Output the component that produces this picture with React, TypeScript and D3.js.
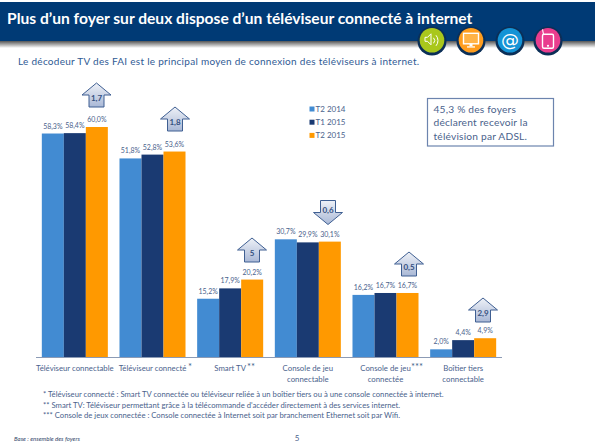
import React from "react";
import * as d3 from "d3";

const categories = ["c1", "c2", "c3", "c4", "c5", "c6"];
const categoryLines = [
  ["Téléviseur connectable"],
  ["Téléviseur connecté"],
  ["Smart TV"],
  ["Console de jeu", "connectable"],
  ["Console de jeu", "connectée"],
  ["Boîtier tiers", "connectable"],
];
const categoryStars = ["", "*", "**", "", "***", ""];
const seriesNames = ["T2 2014", "T1 2015", "T2 2015"];
const seriesColors = ["#428BD2", "#1A3A72", "#FF9900"];
const t22014 = [58.3, 51.8, 15.2, 30.7, 16.2, 2.0];
const t12015 = [58.4, 52.8, 17.9, 29.9, 16.7, 4.4];
const t22015 = [60.0, 53.6, 20.2, 30.1, 16.7, 4.9];
const arrowLabels = ["1,7", "1,8", "5", "0,6", "0,5", "2,9"];
const arrowDown = [false, false, false, true, false, false];
const notes = [
  "* Téléviseur connecté : Smart TV connectée ou téléviseur reliée à un boîtier tiers ou à une console connectée à internet.",
  "** Smart TV: Téléviseur permettant grâce à la télécommande d'accéder directement à des services internet.",
  "*** Console de jeux connectée : Console connectée à Internet soit par branchement Ethernet soit par Wifi.",
];
const boxLines = ["45,3 % des foyers", "déclarent recevoir la", "télévision par ADSL."];
const iconColors = ["#A9C71C", "#FF9D1E", "#1493D6", "#E93D8E"];

const FONT = "Lato, 'Open Sans', sans-serif";
const TEXT = "#4A628C";
const NAVY = "#003A75";

const x = d3.scaleBand<string>().domain(categories).range([36, 502]).paddingInner(0.15).paddingOuter(0.075);
const s = d3.scaleBand<number>().domain([0, 1, 2]).range([0, x.bandwidth()]);
const y = d3.scaleLinear().domain([0, 60]).range([357, 127]);
const fr = (v: number) => d3.format(".1f")(v).replace(".", ",") + "%";

function Arrow({ cx, top, down, label }: { cx: number; top: number; down: boolean; label: string }) {
  const w = 29, h = 24, sw = 15, head = 12;
  const pts = down
    ? [[cx - sw / 2, top], [cx + sw / 2, top], [cx + sw / 2, top + h - head], [cx + w / 2, top + h - head], [cx, top + h], [cx - w / 2, top + h - head], [cx - sw / 2, top + h - head]]
    : [[cx, top], [cx + w / 2, top + head], [cx + sw / 2, top + head], [cx + sw / 2, top + h], [cx - sw / 2, top + h], [cx - sw / 2, top + head], [cx - w / 2, top + head]];
  return (
    <g>
      <polygon points={pts.map((p) => p.join(",")).join(" ")} fill="url(#arrowFill)" stroke="#3F5F92" strokeWidth={1} />
      <text x={cx} y={down ? top + 12 : top + 18} textAnchor="middle" fontSize={8} fontWeight={700} fill="#34507F" fontFamily={FONT}>
        {label}
      </text>
    </g>
  );
}

function Icon({ cx, i }: { cx: number; i: number }) {
  const cy = 41;
  return (
    <g>
      <circle cx={cx} cy={cy} r={14.5} fill="#0B2F57" />
      <circle cx={cx} cy={cy - 0.7} r={12.3} fill={iconColors[i]} />
      <g transform={`translate(${cx},${cy - 0.7})`}>
        {i === 0 && (
          <g fill="none" stroke="#fff" strokeWidth={1}>
            <path d="M-7,-3 h2.5 l3.5,-3.5 v11 l-3.5,-3.5 h-2.5 z" />
            <path d="M1.5,-2.5 a4,4 0 0 1 0,5.5 M4,-5 a8,8 0 0 1 0,10.5" />
          </g>
        )}
        {i === 1 && (
          <g>
            <rect x={-7.5} y={-7} width={15} height={10.5} fill="#FFB347" stroke="#fff" strokeWidth={1.4} />
            <rect x={-1.5} y={3.5} width={3} height={2.5} fill="#fff" />
            <rect x={-4} y={6} width={8} height={1.3} fill="#fff" />
          </g>
        )}
        {i === 2 && (
          <text x={0} y={6} textAnchor="middle" fontSize={18} fill="#fff" fontFamily="'DejaVu Sans', sans-serif">
            @
          </text>
        )}
        {i === 3 && (
          <g fill="none" stroke="#fff">
            <rect x={-5.5} y={-6} width={11} height={14} rx={1.5} strokeWidth={1.4} />
            <path d="M-4.5,-6 L-5.5,-11" strokeWidth={1.1} />
            <circle cx={0} cy={5.5} r={1.1} fill="#fff" stroke="none" />
          </g>
        )}
      </g>
    </g>
  );
}

export default function App() {
  const series = [t22014, t12015, t22015];
  const arrowTops = [83, 107, 238, 200.5, 252, 298];
  const arrowCx = [96.5, 175, 252, 328, 409, 483];
  const starX = [0, 188, 247, 0, 411, 0];
  return (
    <svg width={595} height={445} style={{ position: "absolute", left: 0, top: 0, background: "#fff" }} fontFamily={FONT}>
      <defs>
        <linearGradient id="arrowFill" x1="0" y1="0" x2="0" y2="1">
          <stop offset="0" stopColor="#EEF1F7" />
          <stop offset="1" stopColor="#A9B8D6" />
        </linearGradient>
        <linearGradient id="shadow" x1="0" y1="0" x2="0" y2="1">
          <stop offset="0" stopColor="#555" />
          <stop offset="1" stopColor="#fff" />
        </linearGradient>
      </defs>

      <rect x={0} y={41} width={595} height={7} fill="url(#shadow)" />
      <rect x={0} y={2} width={595} height={39} fill={NAVY} />
      <text x={7} y={24} fontSize={15.6} fontWeight={700} fill="#fff">
        Plus d’un foyer sur deux dispose d’un téléviseur connecté à internet
      </text>
      {[432, 471, 510, 548].map((cx, i) => (
        <Icon key={i} cx={cx} i={i} />
      ))}
      <text x={18} y={64.5} fontSize={10} fill="#2F5A94" letterSpacing={0.28}>
        Le décodeur TV des FAI est le principal moyen de connexion des téléviseurs à internet.
      </text>

      {categories.map((c, ci) =>
        series.map((vals, si) => {
          const bx = (x(c) as number) + (s(si) as number);
          return (
            <g key={c + si}>
              <rect x={bx} y={y(vals[ci])} width={s.bandwidth()} height={357 - y(vals[ci])} fill={seriesColors[si]} />
              <text x={bx + s.bandwidth() / 2} y={y(vals[ci]) - 5} textAnchor="middle" fontSize={7} fill={TEXT}>
                {fr(vals[ci])}
              </text>
            </g>
          );
        })
      )}
      <line x1={36} x2={502} y1={357.5} y2={357.5} stroke="#8C9BB5" strokeWidth={1} />

      {categories.map((c, ci) => {
        const cx = (x(c) as number) + x.bandwidth() / 2;
        return (
          <g key={c}>
            {categoryLines[ci].map((l, li) => (
              <text key={li} x={cx} y={371 + li * 10.7} textAnchor="middle" fontSize={7.8} fill={TEXT}>
                {l}
              </text>
            ))}
            {categoryStars[ci] && (
              <text x={starX[ci]} y={370} fontSize={9.5} fill={TEXT}>
                {categoryStars[ci]}
              </text>
            )}
            <Arrow cx={arrowCx[ci]} top={arrowTops[ci]} down={arrowDown[ci]} label={arrowLabels[ci]} />
          </g>
        );
      })}

      {seriesNames.map((n, i) => (
        <g key={n}>
          <rect x={309.5} y={106.5 + i * 13.2} width={5} height={5} fill={seriesColors[i]} />
          <text x={315.5} y={112 + i * 13.2} fontSize={8} fill={TEXT}>
            {n}
          </text>
        </g>
      ))}

      <rect x={427.5} y={98.5} width={126} height={47.5} fill="#fff" stroke="#6C84AE" strokeWidth={1.2} />
      {boxLines.map((l, i) => (
        <text key={l} x={433.5} y={112.5 + i * 13.7} fontSize={10.2} fill={TEXT} letterSpacing={0.2}>
          {l}
        </text>
      ))}

      {notes.map((n, i) => (
        <text key={i} x={43} y={397 + i * 10.5} fontSize={7.7} fill={TEXT}>
          {n}
        </text>
      ))}
      <text x={14} y={440.5} fontSize={6} fontStyle="italic" fill="#33466B">
        Base : ensemble des foyers
      </text>
      <text x={297} y={440.5} fontSize={8} textAnchor="middle" fill={TEXT}>
        5
      </text>
    </svg>
  );
}
